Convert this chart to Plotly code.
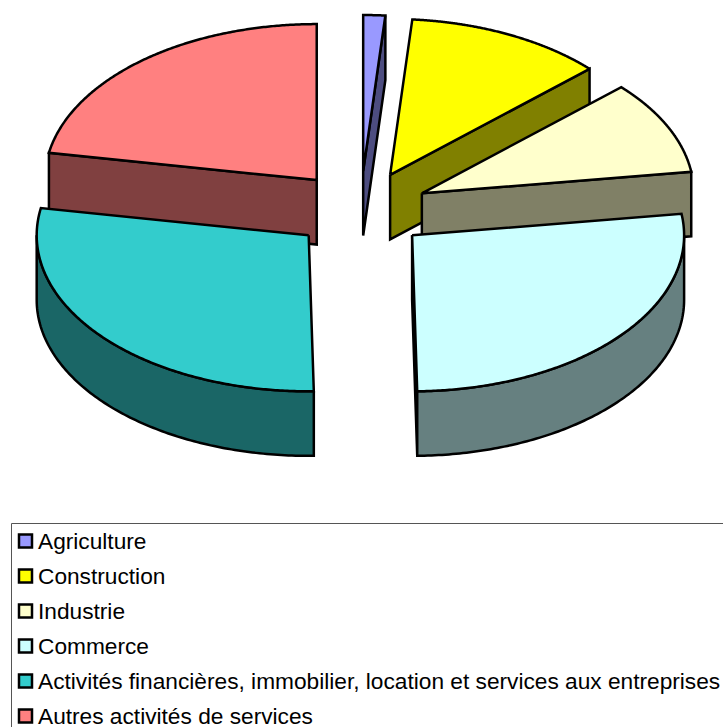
import numpy as np
import plotly.graph_objects as go

categories = ["Agriculture", "Construction", "Industrie", "Commerce",
              "Activités financières, immobilier, location et services aux entreprises",
              "Autres activités de services"]
shares = [1.3, 11.8, 9.7, 26.9, 28.1, 22.2]
top_colors = ["#9999FF", "#FFFF00", "#FFFFCC", "#CCFFFF", "#33CCCC", "#FF8080"]
side_colors = ["#4D4D80", "#808000", "#808066", "#668080", "#1A6666", "#804040"]
paint_order = [0, 1, 2, 5, 4, 3]

CX, CY, RX, RY, DEPTH, EXPLODE = 360.4, 210.0, 272.0, 156.0, 64.5, 0.25
LINE = 2.5

W, H = 723, 727
total = sum(shares)
edges = np.concatenate([[0.0], np.cumsum(shares)]) / total * 2 * np.pi

fig = go.Figure()


def poly(xs, ys, color, name):
    fig.add_trace(go.Scatter(
        x=np.append(xs, xs[0]), y=np.append(ys, ys[0]), mode="lines", fill="toself",
        fillcolor=color, line=dict(color="#000000", width=LINE, simplify=False),
        hoverinfo="text", text=name, showlegend=False))


def rim(a, ax, ay):
    return ax + RX * np.sin(a), ay - RY * np.cos(a)


for i in paint_order:
    s, e = edges[i], edges[i + 1]
    m = (s + e) / 2
    ax = CX + EXPLODE * RX * np.sin(m)
    ay = CY - EXPLODE * RY * np.cos(m)
    name = categories[i]
    # radial walls that face the viewer
    for a, visible in ((s, np.sin(s) < -1e-6), (e, np.sin(e) > 1e-6)):
        if visible:
            rx_, ry_ = rim(a, ax, ay)
            poly(np.array([ax, rx_, rx_, ax]),
                 np.array([ay, ry_, ry_ + DEPTH, ay + DEPTH]), side_colors[i], name)
    # outer curved wall, front half only
    lo, hi = max(s, np.pi / 2), min(e, 3 * np.pi / 2)
    if hi > lo:
        t = np.linspace(lo, hi, 120)
        px, py = rim(t, ax, ay)
        poly(np.concatenate([px, px[::-1]]),
             np.concatenate([py, py[::-1] + DEPTH]), side_colors[i], name)
    # top face
    t = np.linspace(s, e, 200)
    px, py = rim(t, ax, ay)
    poly(np.concatenate([[ax], px]), np.concatenate([[ay], py]), top_colors[i], name)

# legend frame and entries
LX, LY, ROW0, STEP = 11.5, 523.5, 541.0, 35.0
fig.add_shape(type="rect", x0=LX, y0=LY, x1=W + 20, y1=H + 20, xref="x", yref="y",
              line=dict(color="#555555", width=1), fillcolor="rgba(0,0,0,0)")
for i, name in enumerate(categories):
    y = ROW0 + STEP * i
    fig.add_trace(go.Scatter(
        x=[25.5], y=[y], mode="markers", hoverinfo="text", text=name, showlegend=False,
        marker=dict(symbol="square", size=13, color=top_colors[i],
                    line=dict(color="#000000", width=2.5))))
    fig.add_annotation(x=37.5, y=y, xref="x", yref="y", text=name, showarrow=False,
                       xanchor="left", yanchor="middle", borderpad=0, borderwidth=0,
                       font=dict(family="Liberation Sans, Arial, sans-serif", size=22.7,
                                 color="#000000"))

fig.update_layout(
    width=W, height=H, margin=dict(l=0, r=0, t=0, b=0), autosize=False,
    paper_bgcolor="#FFFFFF", plot_bgcolor="#FFFFFF", showlegend=False,
    xaxis=dict(range=[0, W], visible=False, fixedrange=True),
    yaxis=dict(range=[H, 0], visible=False, fixedrange=True),
)
fig.write_html("out.html", config={"displayModeBar": False},
               post_script="document.body.style.margin='0';document.body.style.overflow='hidden';")
